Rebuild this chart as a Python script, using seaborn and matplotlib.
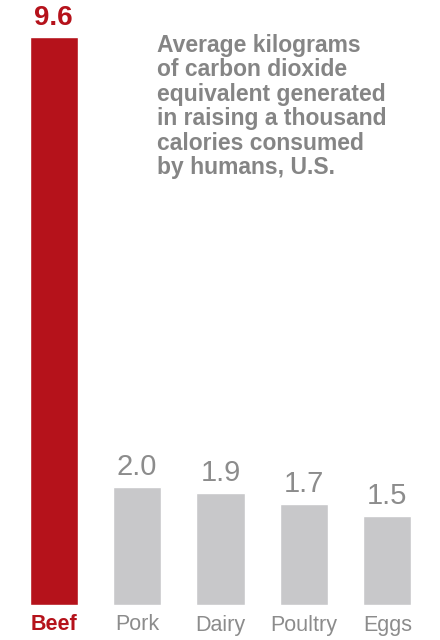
import matplotlib
matplotlib.use("Agg")
import matplotlib.pyplot as plt
import seaborn as sns
import pandas as pd

categories = ["Beef", "Pork", "Dairy", "Poultry", "Eggs"]
values = [9.6, 2.0, 1.9, 1.7, 1.5]
labels = ["9.6", "2.0", "1.9", "1.7", "1.5"]

sns.set_style("white")
plt.rcParams['font.family'] = ['Liberation Sans', 'DejaVu Sans']

red = "#B5121B"
gray = "#C8C8CA"
tgray = "#8C8C8C"
colors = [red] + [gray] * 4

df = pd.DataFrame({"cat": categories, "val": values})
fig = plt.figure(figsize=(4.4, 6.4), dpi=100)
ax = fig.add_axes([12/440, 35/640, 417/440, 605/640])
sns.barplot(data=df, x="cat", y="val", hue="cat", palette=colors, width=0.58,
            legend=False, ax=ax, saturation=1)
ax.set_ylim(0, 10.22)
ax.set_xlim(-0.5, 4.5)
ax.axis("off")
for i, (v, l) in enumerate(zip(values, labels)):
    c = red if i == 0 else tgray
    w = "bold" if i == 0 else "normal"
    ax.text(i, v + 0.1, l, ha="center", va="bottom", fontsize=20 if i == 0 else 21,
            color=c, fontweight=w)
    fig.text((12 + 83.4 * (i + 0.5)) / 440, 15/640, categories[i], ha="center",
             va="center", fontsize=15.5, color=c, fontweight=w)
fig.text(157/440, 1 - 34/640,
         "Average kilograms\nof carbon dioxide\nequivalent generated\nin raising a thousand\ncalories consumed\nby humans, U.S.",
         ha="left", va="top", fontsize=16.5, color="#858585", fontweight="bold",
         linespacing=1.08)
fig.savefig("out.png", dpi=100)
